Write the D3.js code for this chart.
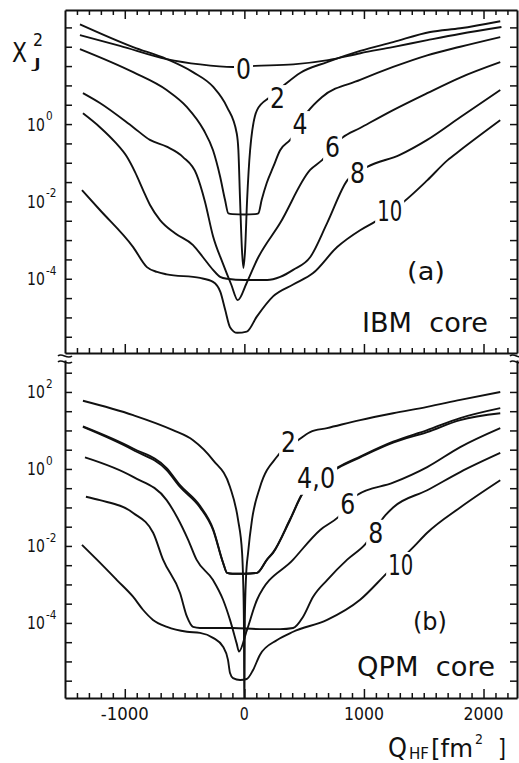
<!DOCTYPE html>
<html><head><meta charset="utf-8">
<script src="https://cdn.jsdelivr.net/npm/d3@7"></script>
<style>
html,body{margin:0;padding:0;background:#fff;}
svg{display:block;}
text{font-family:"DejaVu Sans",sans-serif;fill:#111;}
</style></head><body>
<svg id="c" width="519" height="763"></svg>
<script>
// ---------- data (Q_HF in fm^2, chi^2 values) ----------
const qMajorTicks = [-1000, 0, 1000, 2000];
const qTickLabels = ["-1000", "0", "1000", "2000"];
const ibmExpLabels = [0, -2, -4];
const qpmExpLabels = [2, 0, -2, -4];

// panel (a) IBM core
const ibmJ0 = [[-1375,200],[-1040,105],[-650,48],[-370,35],[-95,30],[90,32],[410,35],[700,45],[970,68],[1240,98],[1530,148],[1800,214],[2150,324]];
const ibmJ2 = [[-1375,380],[-930,98],[-650,48],[-430,22],[-260,9.1],[-145,2.75],[-64,0.58],[-50,0.21],[-36,0.011],[-20,5.5e-4],[-8,1.9e-4],[6,5.5e-4],[23,0.011],[48,0.21],[106,2.3],[215,5.0],[341,10.7],[466,21],[692,40],[968,78],[1244,132],[1554,240],[1805,300],[2140,457]];
const ibmJ4 = [[-1375,87],[-930,22],[-650,7.6],[-480,2.75],[-340,0.7],[-262,0.21],[-203,0.044],[-162,0.011],[-134,4.9e-3],[-100,4.7e-3],[0,4.6e-3],[90,4.7e-3],[117,4.9e-3],[145,0.011],[187,0.030],[242,0.079],[299,0.21],[383,0.39],[525,2.0],[650,5.0],[968,13.8],[1244,30],[1529,60],[1805,100],[2140,178]];
const ibmJ6 = [[-1350,6.3],[-1208,3.5],[-930,0.83],[-790,0.39],[-650,0.26],[-513,0.14],[-400,0.05],[-330,0.01],[-262,1.26e-3],[-180,2.5e-4],[-110,7.1e-5],[-55,2.8e-5],[20,7.9e-5],[106,3.1e-4],[299,2.75e-3],[550,0.065],[650,0.117],[818,0.44],[968,0.79],[1244,2.3],[1529,6.3],[1805,16],[2140,40]];
const ibmJ8 = [[-1350,1.9],[-1208,0.83],[-1081,0.34],[-981,0.14],[-914,0.057],[-847,0.0196],[-789,8.1e-3],[-705,3.3e-3],[-580,1.5e-3],[-429,7.4e-4],[-346,3.6e-4],[-262,1.7e-4],[-203,1.12e-4],[-145,1.0e-4],[0,9.3e-5],[190,9.3e-5],[300,1.12e-4],[408,1.7e-4],[550,3.6e-4],[692,2.75e-3],[860,0.035],[1027,0.078],[1300,0.16],[1529,0.39],[1805,1.5],[2140,7.6]];
const ibmJ10 = [[-1358,0.0195],[-1208,6.0e-3],[-930,6.6e-4],[-815,2.0e-4],[-730,1.5e-4],[-650,1.3e-4],[-371,1.05e-4],[-262,8.3e-5],[-200,4.5e-5],[-160,1.55e-5],[-120,5.6e-6],[-60,4.0e-6],[20,4.3e-6],[104,1.05e-5],[240,3.5e-5],[408,7.1e-5],[575,1.4e-4],[776,6.6e-4],[968,1.8e-3],[1094,3.0e-3],[1328,9.5e-3],[1529,0.035],[1700,0.117],[1805,0.21],[2140,1.26]];
const ibmLabelText = ["0","2","4","6","8","10"];
const ibmLabelAt = [[-7,26],[278,4.7],[466,1],[738,0.25],[947,0.054],[1215,5.6e-3]];

// panel (b) QPM core
const qpmJ2 = [[-1350,59],[-930,25],[-597,10.2],[-429,5.6],[-262,1.7],[-120,0.34],[-53,0.048],[-19,6.6e-3],[-11,1.55e-3],[-4,1.2e-4],[0,3e-7],[4,1.2e-4],[14,1.55e-3],[31,6.6e-3],[64,0.048],[131,0.34],[274,2.1],[449,5.6],[550,9.1],[692,11.5],[968,18.6],[1244,28],[1529,41],[1805,62],[2140,100]];
const qpmJ4 = [[-1350,12.3],[-930,3.1],[-650,0.93],[-538,0.34],[-371,0.10],[-262,0.026],[-178,3.6e-3],[-145,2.0e-3],[-100,1.9e-3],[0,1.9e-3],[106,2.0e-3],[190,4.4e-3],[240,6.6e-3],[383,0.048],[492,0.24],[785,1.07],[968,2.0],[1244,4.8],[1529,9.1],[1805,18.6],[2140,28]];
const qpmJ0 = [[-1350,12.8],[-930,3.4],[-650,1.05],[-538,0.38],[-371,0.11],[-262,0.028],[-178,3.7e-3],[-145,2.0e-3],[-100,1.9e-3],[0,1.9e-3],[106,2.0e-3],[190,4.5e-3],[240,6.8e-3],[383,0.05],[492,0.25],[785,1.12],[968,2.1],[1244,5.1],[1529,10.2],[1805,21],[2140,38]];
const qpmJ6 = [[-1333,2.0],[-930,0.62],[-650,0.155],[-560,0.054],[-470,0.0144],[-400,4.4e-3],[-262,1.3e-3],[-178,4.0e-4],[-120,1.2e-4],[-64,2.9e-5],[-45,1.8e-5],[20,6.3e-5],[106,4.0e-4],[408,4.4e-3],[634,0.026],[785,0.056],[943,0.21],[1244,0.44],[1529,1.12],[1805,3.7],[2140,11.5]];
const qpmJ8 = [[-1325,0.19],[-1208,0.155],[-930,0.072],[-763,0.022],[-680,4.4e-3],[-538,6.0e-4],[-480,1.45e-4],[-429,7.9e-5],[-371,7.4e-5],[-95,7.4e-5],[131,6.9e-5],[299,6.9e-5],[408,7.4e-5],[491,1.45e-4],[575,4.8e-4],[692,1.3e-3],[860,4.4e-3],[1010,0.011],[1180,0.063],[1244,0.10],[1529,0.28],[1805,0.83],[2140,2.6]];
const qpmJ10 = [[-1358,0.0107],[-1233,4.4e-3],[-1066,1.3e-3],[-931,4.8e-4],[-848,2.2e-4],[-764,1.2e-4],[-647,7.9e-5],[-480,5.9e-5],[-371,5.5e-5],[-262,4.1e-5],[-178,2.4e-5],[-137,1.1e-5],[-120,5.0e-6],[-95,3.7e-6],[-36,3.3e-6],[20,3.5e-6],[73,6.0e-6],[131,1.5e-5],[274,3.6e-5],[408,5.9e-5],[692,1.2e-4],[968,4.0e-4],[1194,2.0e-3],[1413,9.3e-3],[1529,0.022],[1805,0.10],[2140,0.51]];
const qpmLabelText = ["2","4,0","6","8","10"];
const qpmLabelAt = [[370,4.9],[600,0.59],[864,0.123],[1098,0.022],[1307,3.2e-3]];

// ---------- layout ----------
const svg = d3.select("#c");
const X0 = 65, X1 = 517;
const x = d3.scaleLinear().domain([-1500, 2280]).range([X0, X1]);
const yA = d3.scaleLog().domain([Math.pow(10,-5.92), Math.pow(10,2.95)]).range([353, 10]);
const yB = d3.scaleLog().domain([Math.pow(10,-5.95), Math.pow(10,2.83)]).range([698, 360]);
const halfDecades = d3.range(-5.5, 2.51, 0.5).map(e => Math.pow(10, e));
const qMinor = d3.range(-1400, 2281, 100);
const INK = "#111";

function styleAxis(g){
  g.select("path.domain").attr("stroke", INK).attr("stroke-width", 2);
  g.selectAll(".tick line").attr("stroke", INK).attr("stroke-width", 1.5);
}
function yAxes(scale){
  const gl = svg.append("g").attr("transform", `translate(${X0},0)`)
    .call(d3.axisLeft(scale).tickValues(halfDecades).tickSize(-7).tickSizeOuter(0).tickFormat(""));
  styleAxis(gl);
  const gr = svg.append("g").attr("transform", `translate(${X1},0)`)
    .call(d3.axisRight(scale).tickValues(halfDecades).tickSize(-7).tickSizeOuter(0).tickFormat(""));
  styleAxis(gr);
}
function xAxis(y0, top){
  const ax = top ? d3.axisTop(x) : d3.axisBottom(x);
  const g = svg.append("g").attr("transform", `translate(0,${y0})`)
    .call(ax.tickValues(qMinor).tickSize(-5).tickSizeOuter(0).tickFormat(""));
  g.selectAll(".tick line").filter(d => d % 1000 === 0).attr("y2", top ? 9 : -9);
  styleAxis(g);
}

yAxes(yA); yAxes(yB);
xAxis(10, true); xAxis(353, false); xAxis(698, false);

// axis break marks
[[X0 - 7, 356], [X1 - 7, 356]].forEach(([bx, by]) => {
  [0, 6].forEach(dy => {
    svg.append("path")
      .attr("d", `M${bx},${by+dy} C${bx+4},${by+dy-4} ${bx+9},${by+dy+4} ${bx+14},${by+dy}`)
      .attr("fill", "none").attr("stroke", INK).attr("stroke-width", 1.6);
  });
});

// clip paths
const defs = svg.append("defs");
defs.append("clipPath").attr("id", "clipA").append("rect").attr("x", X0).attr("y", 10).attr("width", X1 - X0).attr("height", 343);
defs.append("clipPath").attr("id", "clipB").append("rect").attr("x", X0).attr("y", 356).attr("width", X1 - X0).attr("height", 342);

function drawCurves(series, yScale, clip){
  const line = d3.line().x(d => x(d[0])).y(d => yScale(d[1])).curve(d3.curveMonotoneX);
  const g = svg.append("g").attr("clip-path", `url(#${clip})`);
  series.forEach(s => g.append("path").attr("d", line(s))
    .attr("fill", "none").attr("stroke", INK).attr("stroke-width", 1.9).attr("stroke-linejoin", "round"));
}
drawCurves([ibmJ0, ibmJ2, ibmJ4, ibmJ6, ibmJ8, ibmJ10], yA, "clipA");
drawCurves([qpmJ2, qpmJ4, qpmJ0, qpmJ6, qpmJ8, qpmJ10], yB, "clipB");

// curve labels with white knock-out
function curveLabels(texts, at, yScale){
  texts.forEach((t, i) => {
    const g = svg.append("g");
    const w = t === "10" ? 25 : (t === "4,0" ? 38 : 15);
    const tx = g.append("text").attr("x", x(at[i][0])).attr("y", yScale(at[i][1]) + 10)
      .attr("text-anchor", "middle").attr("font-size", 28)
      .attr("textLength", w).attr("lengthAdjust", "spacingAndGlyphs").text(t);
    const b = tx.node().getBBox();
    g.insert("rect", "text").attr("x", b.x - 2).attr("y", b.y + 3).attr("width", b.width + 4).attr("height", b.height - 3).attr("fill", "#fff");
  });
}
curveLabels(ibmLabelText, ibmLabelAt, yA);
curveLabels(qpmLabelText, qpmLabelAt, yB);

// y tick labels 10^n (narrow, tall digits via vertical scaling)
function yLabels(exps, yScale){
  exps.forEach(e => {
    const yy = yScale(Math.pow(10, e));
    svg.append("text").attr("transform", `translate(27,${yy + 6.5}) scale(1,1.25)`)
      .attr("font-size", 14).text("10");
    const s = e < 0 ? "-" + Math.abs(e) : String(e);
    svg.append("text").attr("transform", `translate(46,${yy - 4}) scale(1,1.2)`)
      .attr("font-size", 10.5).text(s);
  });
}
yLabels(ibmExpLabels, yA);
yLabels(qpmExpLabels, yB);

// x tick labels
qMajorTicks.forEach((q, i) => {
  const t = qTickLabels[i];
  svg.append("text").attr("x", x(q)).attr("y", 720).attr("text-anchor", "middle").attr("font-size", 18)
    .attr("textLength", t === "0" ? 9 : (t.length === 5 ? 48 : 40)).attr("lengthAdjust", "spacingAndGlyphs").text(t);
});

// axis titles and captions
function txt(s, xx, yy, fs, len){
  const t = svg.append("text").attr("x", xx).attr("y", yy).attr("font-size", fs).text(s);
  if (len) t.attr("textLength", len).attr("lengthAdjust", "spacingAndGlyphs");
  return t;
}
// y title: X with superscript 2 and subscript J
txt("X", 12, 62, 26, 15);
txt("2", 33, 46, 17, 10);
txt("J", 33, 68, 14, 9);
// x title: Q_HF [fm^2]
txt("Q", 388, 757, 27, 19);
txt("HF", 409, 759, 15, 20);
txt("[fm", 431, 757, 24, 42);
txt("2", 475, 744, 14, 8);
txt("]", 498, 757, 24, 8);

txt("(a)", 407, 280, 25, 38);
txt("IBM\u00a0 core", 362, 332, 27, 126);
txt("(b)", 413, 630, 25, 34);
txt("QPM\u00a0 core", 357, 676, 27, 138);
</script>
</body></html>
